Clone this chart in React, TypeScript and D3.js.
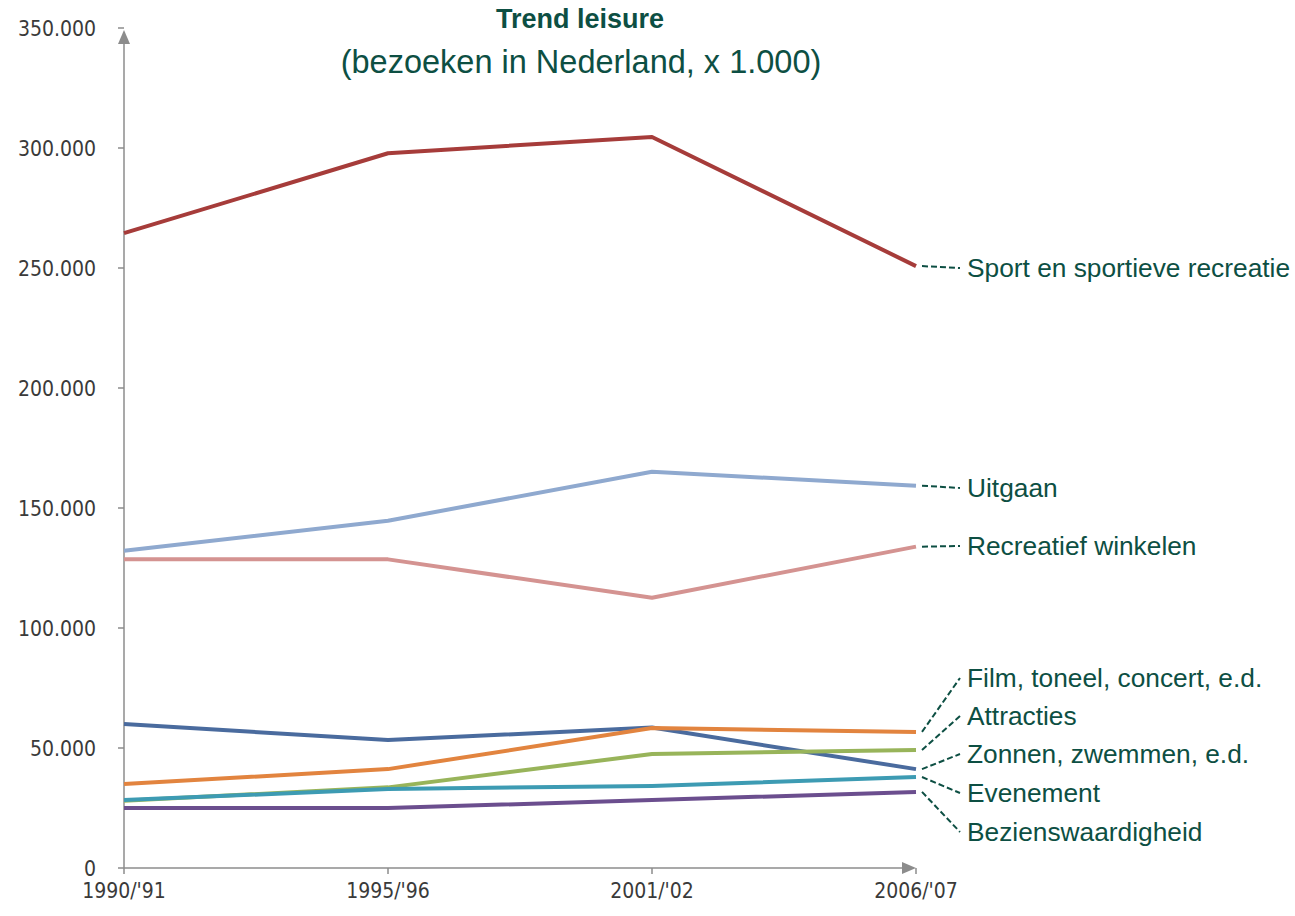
import React from "react";
import * as d3 from "d3";

// Visits in the Netherlands (x 1.000) per survey period
const periods = ["1990/'91", "1995/'96", "2001/'02", "2006/'07"];

const sport = [264500, 297800, 304600, 250800];
const uitgaan = [132200, 144700, 165100, 159300];
const winkelen = [128600, 128600, 112600, 133900];
const zonnen = [60000, 53300, 58500, 41200];
const film = [35000, 41200, 58300, 56700];
const attracties = [28000, 33600, 47500, 49200];
const evenement = [28300, 32900, 34200, 37900];
const bezienswaardigheid = [25000, 25000, 28300, 31700];

const seriesNames = [
  "Sport en sportieve recreatie",
  "Uitgaan",
  "Recreatief winkelen",
  "Zonnen, zwemmen, e.d.",
  "Film, toneel, concert, e.d.",
  "Attracties",
  "Evenement",
  "Bezienswaardigheid",
];
const seriesValues = [sport, uitgaan, winkelen, zonnen, film, attracties, evenement, bezienswaardigheid];
const seriesColors = ["#A63C3A", "#8FA9CF", "#D49391", "#4A6B9E", "#E2843F", "#98B45A", "#3D9BB3", "#6B4E8E"];

const yTicks = [0, 50000, 100000, 150000, 200000, 250000, 300000, 350000];

// Vertical slot of each end label (pixel y of the label's middle)
const labelSlots = [268, 488, 546, 754, 678, 716, 793, 832];

const W = 1295;
const H = 916;
const textColor = "#0D4F43";
const axisColor = "#8C8C8C";

const nl = d3.formatLocale({ decimal: ",", thousands: ".", grouping: [3], currency: ["€", ""] });
const fmt = nl.format(",.0f");

export default function App() {
  const x = d3.scalePoint<string>().domain(periods).range([124, 916]);
  const y = d3.scaleLinear().domain([0, 350000]).range([868, 28]);

  const line = d3
    .line<number>()
    .x((_, i) => x(periods[i]) as number)
    .y((v) => y(v));

  const x0 = x(periods[0]) as number;
  const xEnd = x(periods[periods.length - 1]) as number;
  const labelX = 967;
  const tickFont = "'DejaVu Sans Condensed', 'DejaVu Sans', sans-serif";

  return (
    <svg
      width={W}
      height={H}
      style={{ position: "absolute", left: 0, top: 0, background: "#fff" }}
      fontFamily="'Liberation Sans', Arial, sans-serif"
    >
      {/* title */}
      <text x={580} y={28} textAnchor="middle" fontSize={27} fontWeight="bold" fill={textColor}>
        Trend leisure
      </text>
      <text x={581} y={73} textAnchor="middle" fontSize={32.5} fill={textColor}>
        (bezoeken in Nederland, x 1.000)
      </text>

      {/* y axis */}
      <line x1={x0} x2={x0} y1={y(0)} y2={y(350000) + 14} stroke={axisColor} strokeWidth={1.5} />
      <path d={`M${x0 - 6},${y(350000) + 16} L${x0},${y(350000) + 2} L${x0 + 6},${y(350000) + 16} Z`} fill={axisColor} />
      {yTicks.map((t) => (
        <g key={t}>
          <line x1={x0 - 6} x2={x0} y1={y(t)} y2={y(t)} stroke={axisColor} strokeWidth={1.5} />
          <text
            x={96}
            y={y(t) + 7.5}
            textAnchor="end"
            fontSize={21}
            fontFamily={tickFont}
            fontStretch="condensed"
            fill="#3a3a3a"
          >
            {fmt(t)}
          </text>
        </g>
      ))}

      {/* x axis */}
      <line x1={x0} x2={xEnd - 12} y1={y(0)} y2={y(0)} stroke={axisColor} strokeWidth={1.5} />
      <path d={`M${xEnd - 14},${y(0) - 6} L${xEnd},${y(0)} L${xEnd - 14},${y(0) + 6} Z`} fill={axisColor} />
      {periods.map((p) => (
        <g key={p}>
          <line x1={x(p)} x2={x(p)} y1={y(0)} y2={y(0) + 6} stroke={axisColor} strokeWidth={1.5} />
          <text
            x={x(p)}
            y={898}
            textAnchor="middle"
            fontSize={21}
            fontFamily={tickFont}
            fontStretch="condensed"
            fill="#3a3a3a"
          >
            {p}
          </text>
        </g>
      ))}

      {/* series */}
      {seriesValues.map((vals, i) => (
        <path
          key={seriesNames[i]}
          d={line(vals) ?? ""}
          fill="none"
          stroke={seriesColors[i]}
          strokeWidth={4}
          strokeLinejoin="round"
        />
      ))}

      {/* end labels with dashed leaders */}
      {seriesValues.map((vals, i) => {
        const yEnd = y(vals[vals.length - 1]);
        const ly = labelSlots[i];
        return (
          <g key={"lab" + i}>
            <line
              x1={xEnd + 6}
              y1={yEnd}
              x2={labelX - 7}
              y2={ly}
              stroke={textColor}
              strokeWidth={2}
              strokeDasharray="6 3"
            />
            <text x={labelX} y={ly + 9} fontSize={26.3} fill={textColor}>
              {seriesNames[i]}
            </text>
          </g>
        );
      })}
    </svg>
  );
}
